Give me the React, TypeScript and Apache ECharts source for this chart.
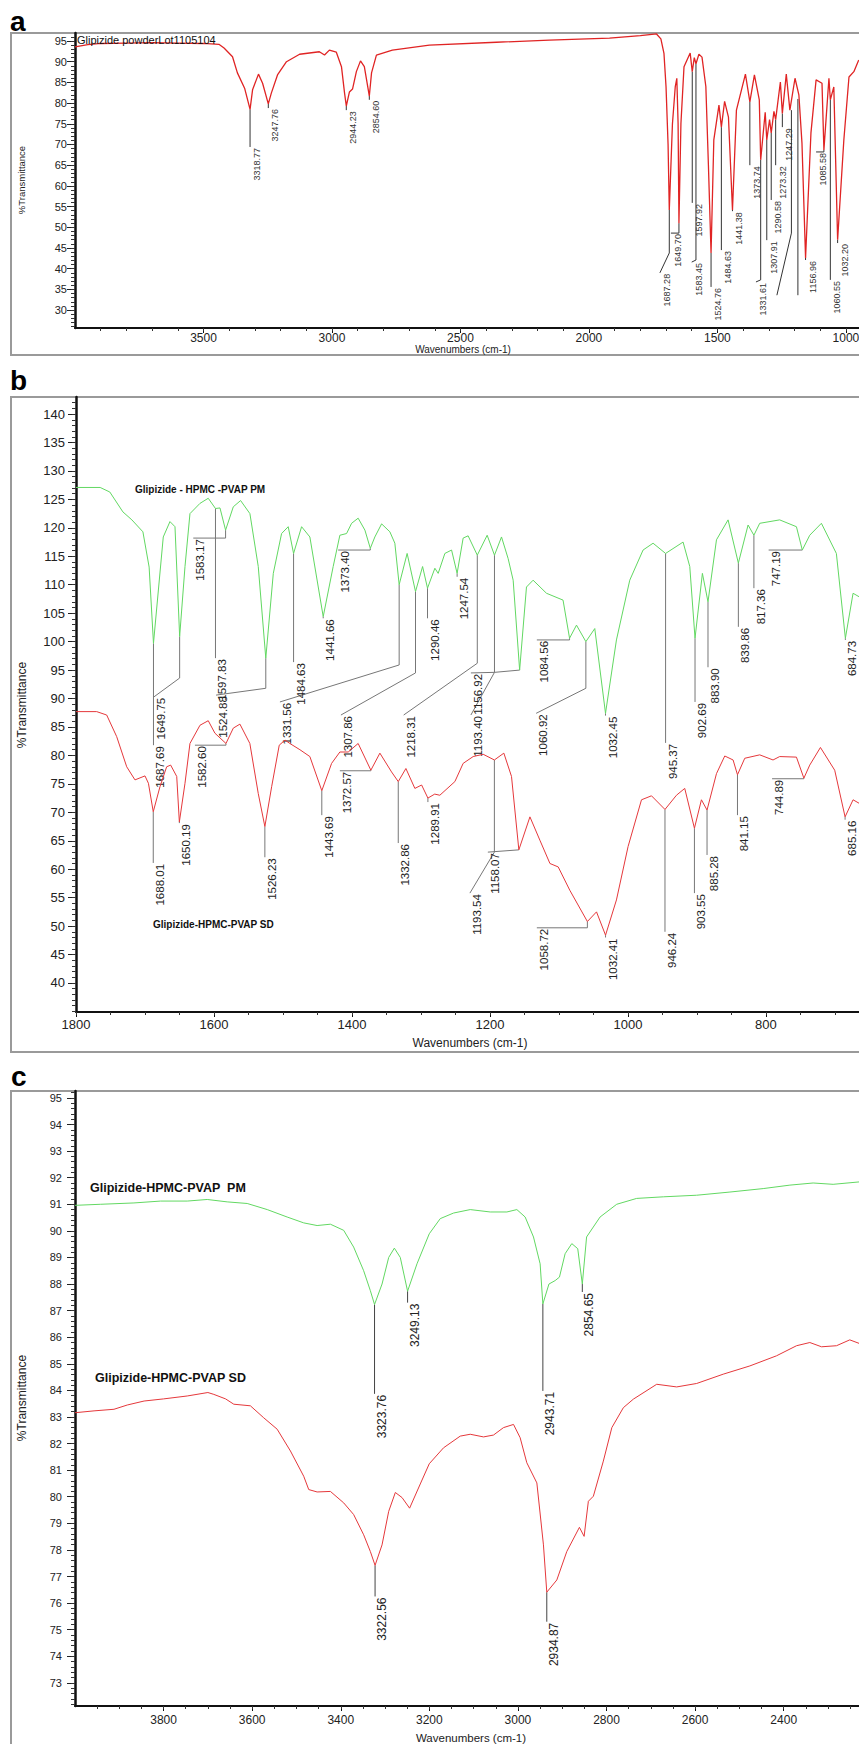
import React, { useEffect, useRef } from "react";
import * as echarts from "echarts";

// ---------- Panel a : Glipizide powder ----------
const specA: number[][] = [
  [4000, 93.6], [3950, 94.1], [3900, 94.4], [3800, 94.5], [3700, 94.6], [3600, 94.5], [3500, 94.4],
  [3440, 94.2], [3420, 93.3], [3387, 91.2], [3368, 87.3], [3340, 83.6], [3318.77, 78.5], [3309, 83.2],
  [3286, 87.0], [3270, 84.8], [3247.76, 79.8], [3236, 82.4], [3212, 86.8], [3177, 90.0], [3126, 91.8],
  [3049, 92.4], [3029, 91.6], [3010, 92.8], [2983, 92.3], [2963, 88.8], [2951, 82.4], [2944.23, 79.3],
  [2932, 82.7], [2920, 83.4], [2905, 87.6], [2889, 90.2], [2874, 88.8], [2854.6, 81.7], [2846, 87.3],
  [2827, 91.6], [2765, 92.8], [2621, 94.0], [2360, 94.7], [2154, 95.2], [1920, 95.7], [1800, 96.3],
  [1737, 96.7], [1720, 95.5], [1708, 92.0], [1700, 84.0], [1692, 70.0], [1687.28, 54.2], [1675, 75.0],
  [1664, 84.0], [1658, 86.0], [1653, 75.0], [1649.7, 51.0], [1642, 75.0], [1630, 88.8], [1606, 92.1],
  [1597.92, 87.6], [1590, 91.0], [1583.45, 89.5], [1572, 91.8], [1560, 91.1], [1545, 84.0], [1535, 65.0],
  [1524.76, 43.8], [1514, 71.1], [1494, 79.5], [1484.63, 74.2], [1472, 80.4], [1457, 76.6], [1441.38, 54.2],
  [1426, 78.3], [1391, 87.0], [1373.74, 80.3], [1356, 86.8], [1337, 80.8], [1331.61, 66.3], [1314, 77.8],
  [1307.91, 71.1], [1297, 76.0], [1290.58, 72.8], [1280, 78.0], [1273.32, 76.0], [1255, 85.1],
  [1247.29, 77.5], [1232, 87.0], [1218, 78.3], [1198, 86.0], [1183, 82.0], [1171, 70.4], [1156.96, 42.6],
  [1136, 72.8], [1116, 85.6], [1093, 84.8], [1085.58, 68.7], [1066, 86.0], [1060.55, 80.8], [1047, 83.9],
  [1032.2, 47.0], [1008, 71.1], [988, 86.3], [969, 87.6], [950, 90.4],
];

// annotation: t = label, p = leader polyline (wavenumber, %T); last point anchors the text
const annA = [
  { t: "3318.77", p: [[3318.77, 78.5], [3318.77, 69.4]] },
  { t: "3247.76", p: [[3247.76, 79.8], [3247.76, 78.8]] },
  { t: "2944.23", p: [[2944.23, 79.3], [2944.23, 78.3]] },
  { t: "2854.60", p: [[2854.6, 81.7], [2854.6, 80.8]] },
  { t: "1687.28", p: [[1687.28, 54.2], [1687.28, 43.8], [1723.8, 39.0]] },
  { t: "1649.70", p: [[1649.7, 51.0], [1649.7, 48.6], [1681, 48.6]] },
  { t: "1597.92", p: [[1597.92, 87.6], [1597.92, 55.9]] },
  { t: "1583.45", p: [[1583.45, 89.5], [1583.45, 42.1], [1600, 41.6]] },
  { t: "1524.76", p: [[1524.76, 43.8], [1524.76, 35.6]] },
  { t: "1484.63", p: [[1484.63, 74.2], [1484.63, 44.5]] },
  { t: "1441.38", p: [[1441.38, 54.2], [1441.38, 53.9]] },
  { t: "1373.74", p: [[1373.74, 80.3], [1373.74, 65.0]] },
  { t: "1331.61", p: [[1331.61, 66.3], [1331.61, 37.3], [1350, 36.8]] },
  { t: "1307.91", p: [[1307.91, 71.1], [1307.91, 46.9]] },
  { t: "1290.58", p: [[1290.58, 72.8], [1290.58, 56.6]] },
  { t: "1273.32", p: [[1273.32, 76.0], [1273.32, 65.0]] },
  { t: "1247.29", p: [[1247.29, 77.5], [1247.29, 74.2]] },
  { t: "", p: [[1212, 78.3], [1212, 48.6], [1268.5, 33.6]] },
  { t: "", p: [[1186.8, 81.0], [1186.8, 33.6]] },
  { t: "1156.96", p: [[1156.96, 42.6], [1156.96, 42.1]] },
  { t: "1085.58", p: [[1085.58, 68.7], [1085.58, 68.2], [1116, 68.2]] },
  { t: "1060.55", p: [[1060.55, 80.8], [1060.55, 37.3]] },
  { t: "1032.20", p: [[1032.2, 47.0], [1032.2, 46.2]] },
];

// ---------- Panel b : PM (green) and SD (red), 1800-665 ----------
const specBpm: number[][] = [
  [1800, 127.1], [1765, 127.1], [1751, 126.3], [1732, 122.8], [1719, 121.4], [1703, 119.3], [1694, 113.1],
  [1687.69, 99.7], [1673.5, 118.4], [1663.8, 121.1], [1656.5, 120.2], [1649.75, 100.9], [1642, 113.2],
  [1634.8, 122.5], [1620.3, 124.3], [1608.3, 125.2], [1597.83, 123.4], [1591.3, 123.5], [1583.17, 119.6],
  [1572, 123.7], [1561.4, 124.8], [1547.9, 122.5], [1535.8, 113.2], [1524.88, 97.1], [1514, 112.0],
  [1502, 119.0], [1492.4, 120.2], [1484.63, 115.5], [1473, 120.2], [1461, 118.4], [1441.66, 104.4],
  [1427.2, 113.2], [1417.5, 118.7], [1407.8, 119.0], [1400.5, 120.8], [1391, 121.7], [1381.2, 119.6],
  [1373.4, 116.4], [1366.8, 118.4], [1357, 120.7], [1345, 119.3], [1337.8, 117.3], [1331.56, 110.0],
  [1320, 115.5], [1307.86, 108.8], [1297.6, 113.2], [1290.46, 109.4], [1279.8, 112.9], [1275, 112.0],
  [1265.3, 115.5], [1255.6, 116.1], [1247.54, 112.0], [1238.8, 118.2], [1231.6, 118.6], [1218.31, 115.2],
  [1204, 118.7], [1193.4, 115.2], [1183.2, 118.4], [1173.6, 114.6], [1166.3, 110.8], [1156.92, 95.0],
  [1147, 109.6], [1137.4, 110.8], [1118, 108.5], [1094, 107.3], [1084.56, 100.6], [1074.5, 102.9],
  [1060.92, 100.0], [1048, 102.3], [1032.45, 87.4], [1016.6, 100.3], [997.3, 110.8], [978, 116.1],
  [963.5, 117.3], [945.37, 115.5], [920, 117.5], [910.3, 113.2], [902.69, 100.6], [892, 112.0],
  [883.9, 107.0], [871.6, 117.9], [854.8, 121.4], [839.86, 113.8], [825.8, 120.5], [817.36, 118.7],
  [808.9, 120.8], [780, 121.4], [755.7, 120.2], [747.19, 116.1], [736.4, 118.7], [719.5, 120.8],
  [697.8, 115.5], [684.73, 100.6], [673.6, 108.5], [665, 107.9],
];

const specBsd: number[][] = [
  [1800, 87.7], [1770, 87.7], [1755.5, 87.1], [1741, 83.3], [1726.5, 78.0], [1714.5, 75.7], [1700, 76.4],
  [1695, 75.1], [1688.01, 70.1], [1678.3, 74.5], [1668.6, 78.0], [1662.8, 78.3], [1654, 76.3],
  [1650.19, 68.3], [1642, 75.1], [1634.8, 82.1], [1620.3, 85.3], [1608.3, 86.1], [1598.6, 83.9],
  [1582.6, 82.1], [1572, 84.8], [1562.4, 85.5], [1548, 82.1], [1535.8, 73.3], [1526.23, 67.5],
  [1516.4, 74.5], [1505.4, 81.8], [1497, 82.7], [1490, 82.1], [1475.4, 81.0], [1461, 79.8],
  [1443.69, 73.8], [1429.5, 78.6], [1417.5, 80.6], [1405.4, 80.6], [1391, 82.1], [1372.57, 77.4],
  [1359.5, 80.4], [1342.6, 77.1], [1332.86, 75.4], [1321.8, 77.7], [1308.8, 74.2], [1299, 74.8],
  [1289.91, 72.5], [1280, 73.2], [1272.6, 73.0], [1250.8, 75.4], [1238.8, 78.6], [1224.3, 79.8],
  [1209.8, 80.2], [1193.54, 79.2], [1179.8, 80.4], [1168.7, 76.3], [1158.07, 63.4], [1142, 69.2],
  [1127.6, 65.1], [1113, 61.0], [1101, 60.4], [1084.2, 56.3], [1058.72, 50.8], [1045.5, 52.5],
  [1032.41, 48.4], [1016.6, 54.6], [999.7, 64.0], [980.3, 72.2], [965.8, 72.9], [946.24, 70.5],
  [929.6, 73.0], [917.6, 74.2], [903.55, 67.2], [893.4, 72.2], [885.28, 70.4], [871.6, 76.8],
  [859.6, 79.9], [847.5, 79.2], [841.15, 76.6], [830.6, 79.5], [808.9, 80.1], [789.6, 79.2], [780, 79.8],
  [755.7, 79.7], [744.89, 76.0], [736.4, 78.3], [720.9, 81.4], [700.2, 77.4], [685.16, 69.2],
  [673.6, 72.2], [665, 71.6],
];

const annBpm = [
  { t: "1687.69", p: [[1687.69, 99.7], [1687.69, 81.8]] },
  { t: "1649.75", p: [[1649.75, 100.9], [1649.75, 93.6], [1686.9, 90.3]] },
  { t: "1583.17", p: [[1583.17, 119.6], [1583.17, 118.2], [1630, 118.2]] },
  { t: "1597.83", p: [[1597.83, 123.4], [1597.83, 97.1]] },
  { t: "1524.88", p: [[1524.88, 97.1], [1524.88, 91.8], [1597, 90.6]] },
  { t: "1331.56", p: [[1331.56, 110.0], [1331.56, 95.9], [1504.4, 89.4]] },
  { t: "1484.63", p: [[1484.63, 115.5], [1484.63, 96.4]] },
  { t: "1441.66", p: [[1441.66, 104.4], [1441.66, 104.1]] },
  { t: "1373.40", p: [[1373.4, 116.4], [1373.4, 116.1], [1420, 116.1]] },
  { t: "1307.86", p: [[1307.86, 108.8], [1307.86, 94.5], [1416, 87.1]] },
  { t: "1290.46", p: [[1290.46, 109.4], [1290.46, 104.1]] },
  { t: "1218.31", p: [[1218.31, 115.2], [1218.31, 96.2], [1325, 87.1]] },
  { t: "1247.54", p: [[1247.54, 112.0], [1247.54, 111.4]] },
  { t: "1193.40", p: [[1193.4, 115.2], [1193.4, 94.6], [1227.6, 87.1]] },
  { t: "1156.92", p: [[1156.92, 95.0], [1193.4, 94.6], [1227.6, 94.5]] },
  { t: "1084.56", p: [[1084.56, 100.6], [1084.56, 100.3], [1132, 100.3]] },
  { t: "1060.92", p: [[1060.92, 100.0], [1060.92, 91.8], [1133, 87.4]] },
  { t: "1032.45", p: [[1032.45, 87.4], [1032.45, 87.0]] },
  { t: "945.37", p: [[945.37, 115.5], [945.37, 82.2]] },
  { t: "902.69", p: [[902.69, 100.6], [902.69, 89.4]] },
  { t: "883.90", p: [[883.9, 107.0], [883.9, 95.5]] },
  { t: "839.86", p: [[839.86, 113.8], [839.86, 102.6]] },
  { t: "817.36", p: [[817.36, 118.7], [817.36, 109.4]] },
  { t: "747.19", p: [[747.19, 116.1], [796, 116.1]] },
  { t: "684.73", p: [[684.73, 100.6], [684.73, 100.3]] },
];

const annBsd = [
  { t: "1688.01", p: [[1688.01, 70.1], [1688.01, 61.1]] },
  { t: "1650.19", p: [[1650.19, 68.3], [1650.19, 68.1]] },
  { t: "1582.60", p: [[1582.6, 82.1], [1582.6, 81.8], [1627.6, 81.8]] },
  { t: "1526.23", p: [[1526.23, 67.5], [1526.23, 62.1]] },
  { t: "1443.69", p: [[1443.69, 73.8], [1443.69, 69.5]] },
  { t: "1372.57", p: [[1372.57, 77.4], [1372.57, 77.3], [1417.5, 77.3]] },
  { t: "1332.86", p: [[1332.86, 75.4], [1332.86, 64.6]] },
  { t: "1289.91", p: [[1289.91, 72.5], [1289.91, 71.8]] },
  { t: "1193.54", p: [[1193.54, 79.2], [1193.54, 63.0], [1229, 55.8]] },
  { t: "1158.07", p: [[1158.07, 63.4], [1203, 63.0]] },
  { t: "1058.72", p: [[1058.72, 50.8], [1058.72, 49.7], [1132, 49.7]] },
  { t: "1032.41", p: [[1032.41, 48.4], [1032.41, 48.0]] },
  { t: "946.24", p: [[946.24, 70.5], [946.24, 49.0]] },
  { t: "903.55", p: [[903.55, 67.2], [903.55, 55.8]] },
  { t: "885.28", p: [[885.28, 70.4], [885.28, 62.5]] },
  { t: "841.15", p: [[841.15, 76.6], [841.15, 69.5]] },
  { t: "744.89", p: [[744.89, 76.0], [744.89, 75.9], [791, 75.9]] },
  { t: "685.16", p: [[685.16, 69.2], [685.16, 68.7]] },
];

// ---------- Panel c : PM (green) and SD (red), 4000-2230 ----------
const specCpm: number[][] = [
  [4000, 90.96], [3942, 91.0], [3867, 91.05], [3806.8, 91.12], [3746.6, 91.12], [3701.5, 91.18],
  [3656.4, 91.09], [3611.3, 91.03], [3566, 90.8], [3521, 90.52], [3483.6, 90.3], [3453.4, 90.2],
  [3423.4, 90.25], [3393.4, 90.02], [3370.9, 89.39], [3348.3, 88.5], [3333.2, 87.75], [3323.76, 87.23],
  [3306.8, 88.0], [3291.8, 89.0], [3279, 89.35], [3265.6, 89.0], [3249.13, 87.73], [3227.9, 88.76],
  [3200.2, 89.89], [3175.4, 90.46], [3145.4, 90.67], [3107.7, 90.8], [3062.6, 90.71], [3025, 90.71],
  [3002.4, 90.8], [2983.7, 90.52], [2964.9, 89.77], [2949.9, 88.76], [2943.71, 87.25], [2930, 88.0],
  [2916, 88.13], [2906.3, 88.26], [2893.5, 89.14], [2878.4, 89.52], [2865, 89.33], [2854.65, 88.0],
  [2845, 89.77], [2814.6, 90.52], [2777, 91.0], [2732, 91.22], [2671.7, 91.28], [2596.5, 91.34],
  [2521.4, 91.46], [2446.3, 91.59], [2386, 91.72], [2333.5, 91.8], [2288.4, 91.75], [2230, 91.84],
];

const specCsd: number[][] = [
  [4000, 83.16], [3957, 83.23], [3912, 83.29], [3882, 83.45], [3844, 83.6], [3800, 83.68],
  [3746.6, 83.79], [3700, 83.92], [3686.6, 83.85], [3660, 83.68], [3641.5, 83.48], [3604, 83.42],
  [3574, 82.97], [3543.6, 82.54], [3513.6, 81.72], [3483.6, 80.77], [3472.3, 80.27], [3453.4, 80.18],
  [3423.4, 80.2], [3393.4, 79.77], [3370.9, 79.33], [3348.3, 78.57], [3333.2, 77.94], [3322.56, 77.42],
  [3306.8, 78.19], [3291.8, 79.45], [3276.8, 80.16], [3261.7, 79.97], [3244.6, 79.57], [3220.5, 80.48],
  [3200.2, 81.24], [3168, 81.84], [3130.3, 82.28], [3107.7, 82.35], [3077.7, 82.25], [3055.2, 82.32],
  [3032.6, 82.6], [3010, 82.72], [2995, 82.22], [2980, 81.28], [2957.3, 80.52], [2942.4, 78.19],
  [2934.87, 76.41], [2912.2, 76.87], [2889.7, 77.94], [2861.2, 78.85], [2850.6, 78.51], [2841, 79.83],
  [2829.7, 80.02], [2807.2, 81.34], [2788, 82.6], [2762, 83.35], [2739.5, 83.67], [2686.7, 84.23],
  [2641.6, 84.13], [2596.5, 84.26], [2536.5, 84.61], [2476.4, 84.92], [2416.3, 85.3], [2371, 85.68],
  [2341, 85.8], [2314.6, 85.64], [2280.8, 85.68], [2250.8, 85.9], [2230, 85.77],
];

const annC = [
  { t: "3323.76", p: [[3323.76, 87.23], [3323.76, 83.87]] },
  { t: "3249.13", p: [[3249.13, 87.73], [3249.13, 87.3]] },
  { t: "2943.71", p: [[2943.71, 87.25], [2943.71, 83.98]] },
  { t: "2854.65", p: [[2854.65, 88.0], [2854.65, 87.7]] },
  { t: "3322.56", p: [[3322.56, 77.42], [3322.56, 76.25]] },
  { t: "2934.87", p: [[2934.87, 76.41], [2934.87, 75.3]] },
];

// ---------- tick labels ----------
const xLabelsA = [1000, 1500, 2000, 2500, 3000, 3500];
const xLabelsB = [800, 1000, 1200, 1400, 1600, 1800];
const xLabelsC = [2400, 2600, 2800, 3000, 3200, 3400, 3600, 3800];
const yLabelsA = [30, 35, 40, 45, 50, 55, 60, 65, 70, 75, 80, 85, 90, 95];
const yLabelsB = [40, 45, 50, 55, 60, 65, 70, 75, 80, 85, 90, 95, 100, 105, 110, 115, 120, 125, 130, 135, 140];
const yLabelsC = [73, 74, 75, 76, 77, 78, 79, 80, 81, 82, 83, 84, 85, 86, 87, 88, 89, 90, 91, 92, 93, 94, 95];

const steps = (a: number, b: number, s: number) => {
  const r: number[] = [];
  for (let i = 0; a + i * s <= b + 1e-9; i++) r.push(Math.round((a + i * s) * 1000) / 1000);
  return r;
};

const FONT = "Liberation Sans";
const plain = (v: number) => String(v);

const mkX = (gridIndex: number, min: number, max: number, labels: number[], minor: number[], fontSize: number, margin: number) => [
  {
    gridIndex, type: "value", position: "bottom", inverse: true, min, max,
    axisLine: { onZero: false, lineStyle: { color: "#111", width: 2 } },
    axisTick: { show: true, customValues: labels, length: 5, lineStyle: { color: "#111", width: 1 } },
    axisLabel: { customValues: labels, formatter: plain, fontFamily: FONT, fontSize, color: "#222", margin },
    splitLine: { show: false },
  },
  {
    gridIndex, type: "value", position: "bottom", inverse: true, min, max,
    axisLine: { show: false, onZero: false },
    axisTick: { show: true, customValues: minor, length: 3, lineStyle: { color: "#333", width: 1 } },
    axisLabel: { show: false },
    splitLine: { show: false },
  },
];

const mkY = (gridIndex: number, min: number, max: number, labels: number[], minor: number[], fontSize: number, margin: number) => [
  {
    gridIndex, type: "value", position: "left", min, max,
    axisLine: { show: true, onZero: false, lineStyle: { color: "#111", width: 2.5 } },
    axisTick: { show: true, customValues: labels, length: 8, lineStyle: { color: "#222", width: 1 } },
    axisLabel: { customValues: labels, formatter: plain, fontFamily: FONT, fontSize, color: "#222", margin },
    splitLine: { show: false },
  },
  {
    gridIndex, type: "value", position: "left", min, max,
    axisLine: { show: false, onZero: false },
    axisTick: { show: true, customValues: minor, length: 4, lineStyle: { color: "#333", width: 1 } },
    axisLabel: { show: false },
    splitLine: { show: false },
  },
];

type Ann = { t: string; p: number[][] };

const annSeries = (list: Ann[], axis: number, fontSize: number, color: string, lineColor: string) => ({
  type: "custom",
  xAxisIndex: axis,
  yAxisIndex: axis,
  silent: true,
  z: 3,
  data: list.map((a) => [a.p[0][0], a.p[0][1]]),
  encode: { x: 0, y: 1 },
  renderItem: (params: any, api: any) => {
    const a = list[params.dataIndex];
    const pts = a.p.map((q) => api.coord(q));
    const end = pts[pts.length - 1];
    const children: any[] = [
      { type: "polyline", shape: { points: pts }, style: { stroke: lineColor, lineWidth: 1, fill: "none" } },
    ];
    if (a.t) {
      children.push({
        type: "text",
        x: end[0] + 7,
        y: end[1] + 1,
        rotation: Math.PI / 2,
        style: {
          text: a.t, fill: color, font: `${fontSize}px "${FONT}"`,
          textAlign: "right", align: "right", textVerticalAlign: "middle", verticalAlign: "middle",
        },
      });
    }
    return { type: "group", children };
  },
});

const lineSeries = (data: number[][], axis: number, color: string, width: number) => ({
  type: "line", xAxisIndex: axis, yAxisIndex: axis, data, showSymbol: false, symbol: "none",
  silent: true, z: 4, lineStyle: { color, width },
});

const txt = (text: string, x: number, y: number, font: string, align = "left", rotation = 0, fill = "#111") => ({
  type: "text", x, y, rotation, silent: true, z: 10,
  style: { text, font, fill, textAlign: align, align, textVerticalAlign: "middle", verticalAlign: "middle" },
});

const box = (x: number, y: number, w: number, h: number) => ({
  type: "rect", silent: true, z: 0,
  shape: { x, y, width: w, height: h },
  style: { fill: "none", stroke: "#9a9a9a", lineWidth: 2 },
});

export default function App() {
  const ref = useRef<HTMLDivElement>(null);
  useEffect(() => {
    if (!ref.current) return;
    const chart = echarts.init(ref.current, null, { renderer: "svg" });
    const RED = "#e5383b";
    const GREEN = "#62d862";
    const g = { containLabel: false, outerBoundsMode: "none" };
    chart.setOption({
      animation: false,
      backgroundColor: "#ffffff",
      grid: [
        { ...g, left: 75, top: 33, width: 784, height: 295 },
        { ...g, left: 76, top: 397, width: 783, height: 615 },
        { ...g, left: 75, top: 1091, width: 784, height: 615 },
      ],
      xAxis: [
        ...mkX(0, 949, 4000, xLabelsA, steps(1000, 3900, 100), 12, 4),
        ...mkX(1, 665, 1800, xLabelsB, steps(700, 1800, 50), 13, 6),
        ...mkX(2, 2230, 4000, xLabelsC, steps(2250, 3950, 50), 12, 8),
      ],
      yAxis: [
        ...mkY(0, 25.68, 96.93, yLabelsA, steps(26, 96, 1), 11, 8),
        ...mkY(1, 34.9, 143, yLabelsB, steps(35, 142, 1), 13, 11),
        ...mkY(2, 72.13, 95.26, yLabelsC, steps(72.2, 95.2, 0.2), 11, 13),
      ],
      series: [
        lineSeries(specA, 0, "#e02424", 1.3),
        annSeries(annA, 0, 9, "#333", "#333"),
        lineSeries(specBpm, 2, GREEN, 1),
        lineSeries(specBsd, 2, RED, 1),
        annSeries(annBpm, 2, 11.5, "#222", "#777"),
        annSeries(annBsd, 2, 11.5, "#222", "#777"),
        lineSeries(specCpm, 4, GREEN, 1),
        lineSeries(specCsd, 4, RED, 1),
        annSeries(annC, 4, 12, "#222", "#444"),
      ],
      graphic: [
        box(11, 33, 900, 322),
        box(11, 397, 900, 655),
        box(11, 1091, 900, 700),
        txt("a", 10, 21, `bold 28px "${FONT}"`, "left", 0, "#000"),
        txt("b", 10, 380, `bold 28px "${FONT}"`, "left", 0, "#000"),
        txt("c", 11, 1076, `bold 28px "${FONT}"`, "left", 0, "#000"),
        txt("Glipizide powderLot1105104", 77, 40, `11px "${FONT}"`),
        txt("Glipizide - HPMC -PVAP PM", 135, 489, `bold 10px "${FONT}"`),
        txt("Glipizide-HPMC-PVAP SD", 153, 924, `bold 10px "${FONT}"`),
        txt("Glipizide-HPMC-PVAP  PM", 90, 1188, `bold 12.5px "${FONT}"`),
        txt("Glipizide-HPMC-PVAP SD", 95, 1378, `bold 12.5px "${FONT}"`),
        txt("%Transmittance", 21, 180, `9.5px "${FONT}"`, "center", Math.PI / 2, "#222"),
        txt("%Transmittance", 22, 705, `12px "${FONT}"`, "center", Math.PI / 2, "#222"),
        txt("%Transmittance", 22, 1398, `12px "${FONT}"`, "center", Math.PI / 2, "#222"),
        txt("Wavenumbers (cm-1)", 463, 349, `10px "${FONT}"`, "center", 0, "#222"),
        txt("Wavenumbers (cm-1)", 470, 1043, `12px "${FONT}"`, "center", 0, "#222"),
        txt("Wavenumbers (cm-1)", 471, 1738, `11.5px "${FONT}"`, "center", 0, "#222"),
      ],
    });
    return () => chart.dispose();
  }, []);
  return (
    <div style={{ position: "absolute", left: 0, top: 0, width: 859, height: 1744, overflow: "hidden" }}>
      <div ref={ref} style={{ width: 859, height: 1744 }} />
    </div>
  );
}
